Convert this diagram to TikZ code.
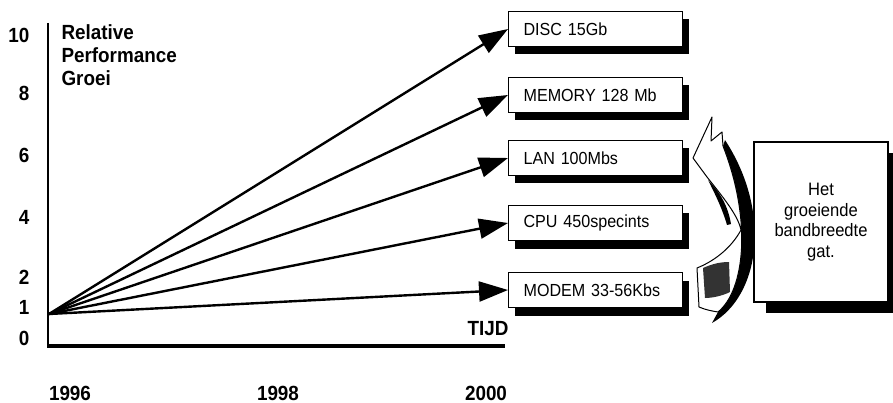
\documentclass[tikz,border=0pt]{standalone}
\usepackage{fontspec}
\setmainfont{Liberation Sans}
\newfontfamily\narrowsans[FakeStretch=0.92]{Liberation Sans}
\usetikzlibrary{arrows.meta,shadows}

\tikzset{
  devbox/.style={draw, line width=1.2pt, fill=white, anchor=west,
    text width=144pt, inner xsep=15pt, minimum height=35pt, align=left,
    font=\narrowsans\fontsize{17.5}{19}\selectfont,
    drop shadow={shadow xshift=6pt, shadow yshift=-8pt, fill=black, opacity=1}},
  gapbox/.style={draw, line width=1.2pt, fill=white,
    minimum width=134pt, minimum height=160pt, align=center,
    font=\narrowsans\fontsize{18}{20.5}\selectfont,
    drop shadow={shadow xshift=12pt, shadow yshift=-11pt, fill=black, opacity=1}},
  axislabel/.style={font=\narrowsans\fontsize{20.5}{23}\selectfont\bfseries},
  growth/.style={line width=2.4pt, -{Triangle[length=29pt,width=20pt]}}
}

\begin{document}
\begin{tikzpicture}[x=1pt,y=-1pt]
  \useasboundingbox (0,0) rectangle (893,403);

  % Axes
  \draw[line width=2.5pt] (48,23) -- (48,346);
  \draw[line width=4pt] (47,346) -- (505,346);
  \coordinate (origin) at (49,314);

  % Scale values and years
  \foreach \val/\ypos in {10/35, 8/93, 6/155, 4/217, 2/277, 1/307, 0/338} {
    \node[axislabel, anchor=east] (y\val) at (33,\ypos) {\val};
  }
  \foreach \yr/\xpos in {1996/70, 1998/278, 2000/486} {
    \node[axislabel] (yr\yr) at (\xpos,393) {\yr};
  }
  \node[axislabel, anchor=north west, align=left] (title) at (58,21)
    {Relative\\Performance\\Groei};
  \node[axislabel] (tijd) at (488,329) {TIJD};

  % Components
  \node[devbox] (disc)   at (508,29)  {DISC 15Gb};
  \node[devbox] (memory) at (508,95)  {MEMORY 128 Mb};
  \node[devbox] (lan)    at (508,158) {LAN 100Mbs};
  \node[devbox] (cpu)    at (508,223) {CPU 450specints};
  \node[devbox] (modem)  at (508,290) {MODEM 33-56Kbs};

  % Growth lines
  \foreach \comp in {disc, memory, lan, cpu, modem} {
    \draw[growth] (origin) -- (\comp.west);
  }

  % The gap
  \node[gapbox] (gap) at (821,222) {Het\\groeiende\\bandbreedte\\gat.};

  % - curved arrow, dark back side
  \fill (712,323) .. controls (760,296) and (772,212) .. (725,140)
    -- (723,146) .. controls (752,220) and (745,290) .. (718,312) -- cycle;
  % - curved arrow, front side
  \filldraw[fill=white, line width=1pt, line join=round]
    (697,268) -- (699,307) .. controls (706,310) and (712,311) .. (718,312)
    .. controls (745,290) and (752,220) .. (723,146)
    -- (722,132) -- (711,141) -- (712,117) -- (693,158) -- (707,177)
    .. controls (722,196) and (738,215) .. (741,230)
    .. controls (730,250) and (712,262) .. (697,268) -- cycle;
  \fill (708,180) .. controls (720,192) and (728,206) .. (731,224)
    -- (727,225) .. controls (722,208) and (715,194) .. (708,180) -- cycle;
  \fill[black!80] (703,268) .. controls (712,264) and (720,262) .. (729,262)
    -- (730,292) .. controls (722,296) and (712,298) .. (705,298) -- cycle;
\end{tikzpicture}
\end{document}
